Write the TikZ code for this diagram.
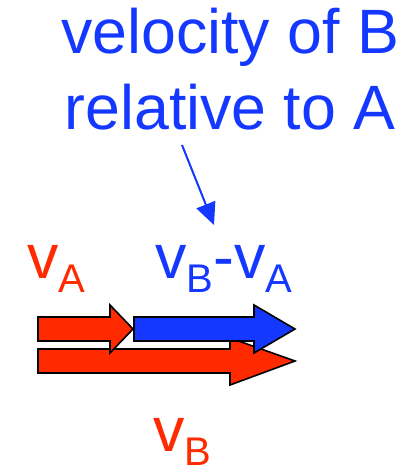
\documentclass[tikz,border=0pt]{standalone}
\usepackage{fontspec}
\setmainfont{Liberation Sans}
\usetikzlibrary{arrows.meta}
\definecolor{velred}{RGB}{255,42,0}
\definecolor{velblue}{RGB}{20,56,255}
\newcommand\velsub[2]{#1\raisebox{-11pt}{\fontsize{30}{30}\selectfont #2}}
\begin{document}
\begin{tikzpicture}[
    x=0.75pt, y=-0.75pt,
    label/.style={inner sep=0pt, anchor=base west, font=\fontsize{47}{57}\selectfont},
    fatred/.style={fill=velred, draw=black, line width=1.2pt, line join=miter},
    fatblue/.style={fill=velblue, draw=black, line width=1.2pt, line join=miter},
    pointer/.style={velblue, line width=1.5pt, -{Triangle[length=16.5pt,width=15pt]}}
]
    \useasboundingbox (0,0) rectangle (413,473);

    % Caption (base = last line)
    \node[inner sep=0pt, anchor=base, align=center, text=velblue,
          font=\fontsize{47}{57}\selectfont] (title) at (230,130)
          {velocity of B\\relative to A};

    % Labels
    \node[label, text=velred] (va) at (27,278) {\velsub{v}{A}};
    \node[label, text=velblue] (rel) at (155,278) {\velsub{v}{B}-\velsub{v}{A}};
    \node[label, text=velred] (vb) at (153,451) {\velsub{v}{B}};

    % Vectors
    \draw[fatred] (38,349) -- (230,349) -- (230,338) -- (295,361) -- (230,385)
        -- (230,373) -- (38,373) -- cycle;
    \draw[fatred] (38,317) -- (110,317) -- (110,305) -- (133,329) -- (110,353)
        -- (110,341) -- (38,341) -- cycle;
    \draw[fatblue] (134,317) -- (254,317) -- (254,305) -- (295,329) -- (254,353)
        -- (254,341) -- (134,341) -- cycle;

    % Pointer
    \coordinate (tail) at (182,145);
    \coordinate (head) at (214,225);
    \draw[pointer] (tail) -- (head);
\end{tikzpicture}
\end{document}
